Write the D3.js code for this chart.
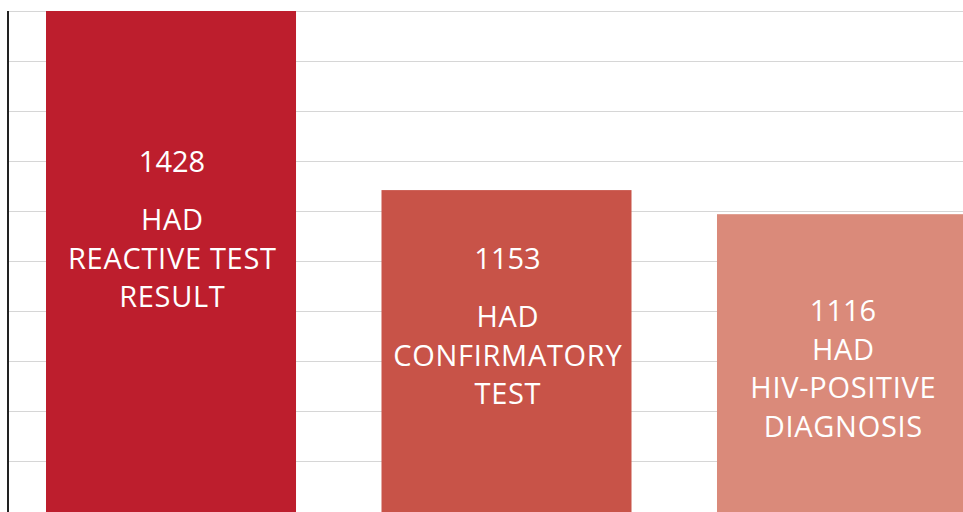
<!DOCTYPE html>
<html>
<head>
<meta charset="utf-8">
<script src="https://cdn.jsdelivr.net/npm/d3@7"></script>
<style>
  html, body { margin: 0; padding: 0; background: #fff; }
  svg { display: block; }
</style>
</head>
<body>
<div id="chart"></div>
<script>
// ━━━━━━━━━━━━━━━━━━━━━━━━━━━━━━━━━━━━━━━━━━━━━━━━━━━━━━━━━━━━━━━━━━━━━━━━━━━━
// Data //////////////////////////////////////////////////////////////////////
// ━━━━━━━━━━━━━━━━━━━━━━━━━━━━━━━━━━━━━━━━━━━━━━━━━━━━━━━━━━━━━━━━━━━━━━━━━━━━

const categories = ['reactive', 'confirmatory', 'positive'];
const values     = [1428, 1153, 1116];
const labelLines = [
  ['HAD', 'REACTIVE TEST', 'RESULT'],
  ['HAD', 'CONFIRMATORY', 'TEST'],
  ['HAD', 'HIV-POSITIVE', 'DIAGNOSIS']
];
const barColors  = ['#bd1e2d', '#c85348', '#da8a7a'];

// ━━━━━━━━━━━━━━━━━━━━━━━━━━━━━━━━━━━━━━━━━━━━━━━━━━━━━━━━━━━━━━━━━━━━━━━━━━━━
// SVG setup /////////////////////////////////////////////////////////////////
// ━━━━━━━━━━━━━━━━━━━━━━━━━━━━━━━━━━━━━━━━━━━━━━━━━━━━━━━━━━━━━━━━━━━━━━━━━━━━

const width = 963, height = 512;

const svg = d3.select('#chart').append('svg')
  .attr('viewBox', [0, 0, width, height])
  .attr('width', width)
  .attr('height', height);

const  grid = svg.append('g').attr('id', 'grid');
const  bars = svg.append('g').attr('id', 'bars');
const  axis = svg.append('g').attr('id', 'axis');
const  txt  = svg.append('g').attr('id', 'labels');

// 250px bars on a 335.5px step; the last one runs off the right edge
const x = d3.scaleBand()
  .domain(categories)
  .range([46, 967])
  .paddingInner(0.2548)
  .paddingOuter(0);

const y = d3.scaleLinear()
  .domain([0, d3.max(values)])
  .range([941, 11]);

// gridlines, evenly spaced from the top of the plot down
const gridScale = d3.scaleLinear().domain([0, 10]).range([511, 11]);

grid.selectAll('line')
  .data(gridScale.ticks(10).filter(d => d > 0))
  .join('line')
  .attr('x1', 8)
  .attr('x2', width)
  .attr('y1', d => gridScale(d) + 0.5)
  .attr('y2', d => gridScale(d) + 0.5)
  .attr('stroke', '#d6d6d6')
  .attr('stroke-width', 1.2);

// Bars //////////////////////////////////////////////////////////////////////

bars.selectAll('rect')
  .data(values)
  .join('rect')
  .attr('x', (d, i) => x(categories[i]))
  .attr('y', d => y(d))
  .attr('width', x.bandwidth())
  .attr('height', d => y(0) - y(d))
  .attr('fill', (d, i) => barColors[i]);

axis.append('line')
  .attr('x1', 8).attr('x2', 8)
  .attr('y1', 11).attr('y2', height)
  .attr('stroke', '#222')
  .attr('stroke-width', 2);

// Labels ////////////////////////////////////////////////////////////////////

const lineH   = 38.5;
const numDy   = [161, 79, 107];   // from bar top to the number's baseline
const gapAfterNum = [58, 58, 38.5];

values.forEach((v, i) => {
  const cx = x(categories[i]) + x.bandwidth() / 2 + 1;
  const y0 = y(v) + numDy[i];
  const g = txt.append('g')
    .attr('fill', '#fff')
    .attr('font-family', '"Open Sans", "Noto Sans", sans-serif')
    .attr('font-size', 29)
    .attr('text-anchor', 'middle');

  g.append('text').attr('x', cx).attr('y', y0).text(v);

  g.selectAll('text.line')
    .data(labelLines[i])
    .join('text')
    .attr('class', 'line')
    .attr('x', cx + 0.35)
    .attr('y', (d, j) => y0 + gapAfterNum[i] + j * lineH)
    .attr('letter-spacing', 0.7)
    .text(d => d);
});
</script>
</body>
</html>
